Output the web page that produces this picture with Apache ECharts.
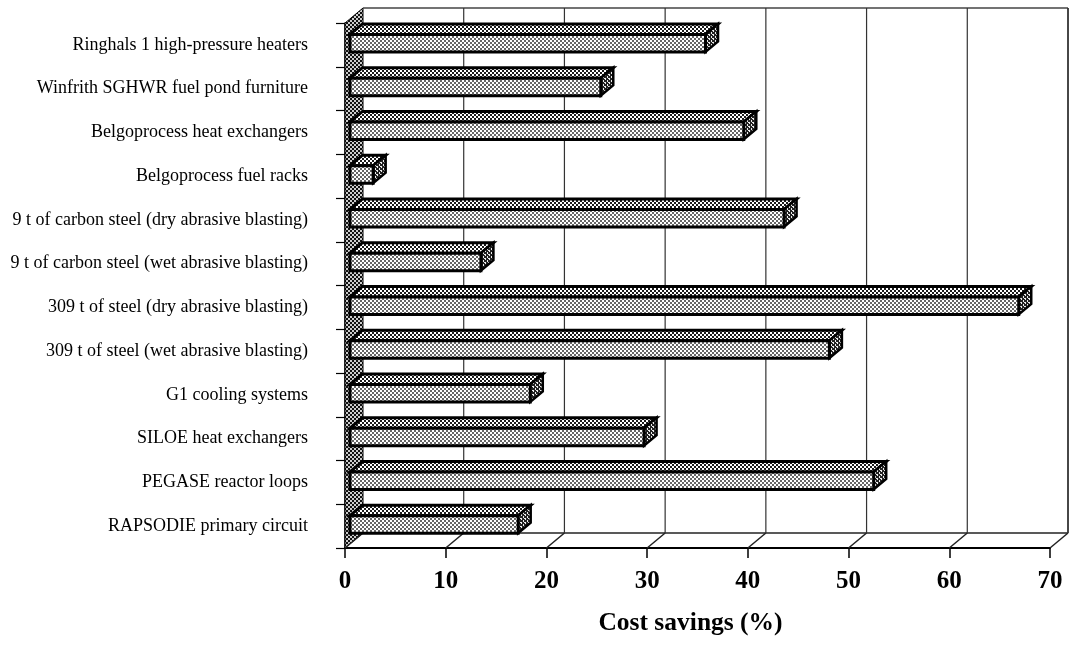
<!DOCTYPE html>
<html><head><meta charset="utf-8"><style>html,body{margin:0;background:#fff}#c{width:1071px;height:645px}</style>
<script src="https://cdn.jsdelivr.net/npm/echarts@6/dist/echarts.min.js"></script></head>
<body><div id="c"></div><script>
const categories=["Ringhals 1 high-pressure heaters","Winfrith SGHWR fuel pond furniture","Belgoprocess heat exchangers","Belgoprocess fuel racks","9 t of carbon steel (dry abrasive blasting)","9 t of carbon steel (wet abrasive blasting)","309 t of steel (dry abrasive blasting)","309 t of steel (wet abrasive blasting)","G1 cooling systems","SILOE heat exchangers","PEGASE reactor loops","RAPSODIE primary circuit"];
const savings=[35.3,24.9,39.1,2.3,43.1,13,66.4,47.6,17.9,29.2,52,16.7];
const ticks=[0,10,20,30,40,50,60,70];
const DX=18,DY=15;
function pat(size,dots,bg,fg){const c=document.createElement('canvas');c.width=c.height=size;const g=c.getContext('2d');g.fillStyle=bg;g.fillRect(0,0,size,size);g.fillStyle=fg;dots.forEach(d=>g.fillRect(d[0],d[1],d[2]||1,d[3]||1));return {image:c,repeat:'repeat'};}
const frontPat=pat(4,[[0,0,2,2],[2,2,2,2]],'#fff','#666');
const topPat=pat(4,[[0,0,2,2],[2,2,2,2]],'#fff','#1c1c1c');
const sidePat=pat(4,[[0,0,3,2],[2,2,2,2],[0,3,1,1]],'#eee','#222');
const wallPat=pat(4,[[0,0,2,2],[2,2,2,2]],'#ccc','#111');
const chart=echarts.init(document.getElementById('c'),null,{renderer:'canvas'});
function poly(pts,fill,lw){return {type:'polygon',shape:{points:pts},style:{fill:fill,stroke:'#000',lineWidth:lw,lineJoin:'miter'}};}
function line(x1,y1,x2,y2,w,col){return {type:'line',shape:{x1,y1,x2,y2},style:{stroke:col||'#222',lineWidth:w}};}
chart.setOption({
  animation:false,backgroundColor:'#fff',
  grid:{left:345,right:21,top:23,bottom:97,containLabel:false},
  xAxis:{type:'value',min:0,max:70,interval:10,position:'bottom',
    name:'Cost savings (%)',nameLocation:'middle',nameGap:62,
    nameTextStyle:{fontFamily:'Liberation Serif',fontWeight:'bold',fontSize:25.5,color:'#000',padding:[0,14,0,0]},
    axisLine:{show:true,lineStyle:{color:'#000',width:2}},axisTick:{show:true,length:10,lineStyle:{color:'#000',width:1.5}},
    axisLabel:{margin:21,fontFamily:'Liberation Serif',fontWeight:'bold',fontSize:25,color:'#000',formatter:v=>String(v)},
    splitLine:{show:false}},
  yAxis:{type:'category',data:categories,inverse:true,
    axisLine:{show:true,lineStyle:{color:'#000',width:1.5}},axisTick:{show:true,length:9,alignWithLabel:false,lineStyle:{color:'#000',width:1.2}},
    axisLabel:{margin:37,fontFamily:'Liberation Serif',fontSize:18,color:'#000',interval:0},
    splitLine:{show:false}},
  series:[
  {type:'custom',name:'frame',coordinateSystem:'cartesian2d',silent:true,clip:false,z:1,data:ticks.map(t=>[t,0]),
   encode:{x:0,y:1},
   renderItem:function(p,api){
     const t=api.value(0);const b=api.coord([t,categories.length-0.5]);const x=b[0];
     const top=23,bot=548;const c=[];
     if(t===0){
       c.push(poly([[x,top],[x+DX,top-DY],[x+DX,bot-DY],[x,bot]],wallPat,1));
       const xe=api.coord([70,0])[0];
       c.push(line(x+DX,top-DY,xe+DX,top-DY,1.3,'#444'));
       c.push(line(x+DX,bot-DY,xe+DX,bot-DY,1.6));
     }
     c.push(line(x,bot,x+DX,bot-DY,1.5));
     if(t>0) c.push(line(x+DX,top-DY,x+DX,bot-DY,t===70?1.8:1.2,'#333'));
     return {type:'group',children:c};
   }},
  {type:'custom',name:'Cost savings',coordinateSystem:'cartesian2d',clip:false,z:3,
   data:savings.map((v,i)=>[v,i]),encode:{x:0,y:1},
   renderItem:function(p,api){
     const v=api.value(0),i=api.value(1);
     const a=api.coord([0,i]),b=api.coord([v,i]);
     const xl=a[0]+5,xr=b[0]+5,yt=a[1]-10.5,yb=a[1]+7,dx=12.5,dy=10.5;
     return {type:'group',children:[
       poly([[xl,yt],[xl+dx,yt-dy],[xr+dx,yt-dy],[xr,yt]],topPat,3),
       poly([[xr,yt],[xr+dx,yt-dy],[xr+dx,yb-dy],[xr,yb]],sidePat,2.5),
       poly([[xl,yt],[xr,yt],[xr,yb],[xl,yb]],frontPat,3)
     ]};
   }}
  ]
});
</script></body></html>
